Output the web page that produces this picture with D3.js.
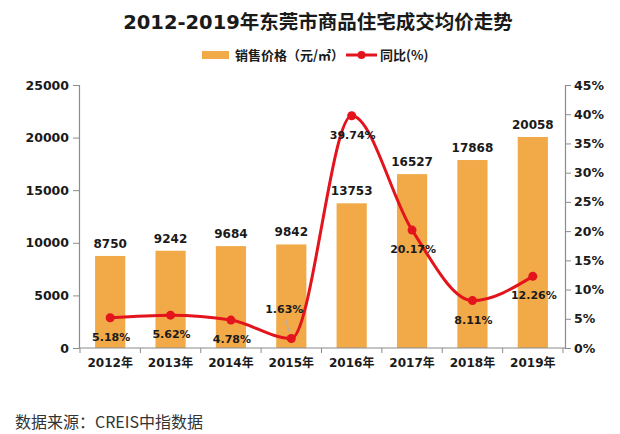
<!DOCTYPE html>
<html>
<head>
<meta charset="utf-8">
<script src="https://cdn.jsdelivr.net/npm/d3@7"></script>
<style>
  html, body { margin: 0; padding: 0; background: #fff; }
  svg { display: block; }
</style>
</head>
<body>
<svg id="chart" width="620" height="434"></svg>
<script>
const years = ["2012年","2013年","2014年","2015年","2016年","2017年","2018年","2019年"];
const prices = [8750, 9242, 9684, 9842, 13753, 16527, 17868, 20058];
const yoy = [5.18, 5.62, 4.78, 1.63, 39.74, 20.17, 8.11, 12.26];
const yoyLabelSide = ["below","below","below","above","below","below","below","below"];
const leftTicks = [0, 5000, 10000, 15000, 20000, 25000];
const rightTicks = [0, 5, 10, 15, 20, 25, 30, 35, 40, 45];

(function () {
const svg = d3.select("#chart");
const barColor = "#F2A948";
const lineColor = "#E3141C";
const axisColor = "#8c8c8c";
const textColor = "#1a1a1a";
const numFont = "'DejaVu Sans', 'Noto Sans CJK SC', sans-serif";

const plotTop = 85, plotBottom = 348, plotLeft = 79, plotRight = 565;

const x = d3.scaleBand().domain(years).range([80, 563]).paddingInner(0.5).paddingOuter(0.25);
const yL = d3.scaleLinear().domain([0, 25000]).range([plotBottom, plotTop]);
const yR = d3.scaleLinear().domain([0, 45]).range([plotBottom, plotTop]);
const cx = d => x(d) + x.bandwidth() / 2;

// Title
svg.append("text")
  .attr("x", 318).attr("y", 29)
  .attr("text-anchor", "middle")
  .attr("font-family", numFont)
  .attr("font-weight", "bold")
  .attr("font-size", 19.5)
  .attr("fill", textColor)
  .text("2012-2019年东莞市商品住宅成交均价走势");

// Legend
const lg = svg.append("g");
lg.append("rect").attr("x", 202).attr("y", 51).attr("width", 27).attr("height", 8).attr("fill", barColor);
lg.append("text").attr("x", 235).attr("y", 60)
  .attr("font-family", "'Noto Sans CJK SC', sans-serif").attr("font-weight", "bold")
  .attr("font-size", 13).attr("fill", textColor).text("销售价格（元/㎡）");
lg.append("line").attr("x1", 346).attr("x2", 377).attr("y1", 55).attr("y2", 55)
  .attr("stroke", lineColor).attr("stroke-width", 3);
lg.append("circle").attr("cx", 361.5).attr("cy", 55).attr("r", 4).attr("fill", lineColor);
lg.append("text").attr("x", 380).attr("y", 60)
  .attr("font-family", "'Noto Sans CJK SC', sans-serif").attr("font-weight", "bold")
  .attr("font-size", 13).attr("fill", textColor).text("同比(%)");

// Bars
svg.append("g").selectAll("rect").data(prices).join("rect")
  .attr("x", (d, i) => x(years[i]))
  .attr("y", d => yL(d))
  .attr("width", x.bandwidth())
  .attr("height", d => yL(0) - yL(d))
  .attr("fill", barColor);

// Bar labels
svg.append("g").selectAll("text").data(prices).join("text")
  .attr("x", (d, i) => cx(years[i]))
  .attr("y", d => yL(d) - 8)
  .attr("text-anchor", "middle")
  .attr("font-family", numFont).attr("font-weight", "bold")
  .attr("font-size", 12).attr("fill", textColor)
  .text(d => d);

// Left axis
const axL = svg.append("g").attr("transform", `translate(${plotLeft},0)`)
  .call(d3.axisLeft(yL).tickValues(leftTicks).tickSize(6).tickPadding(4).tickFormat(d => d));
axL.select(".domain").attr("stroke", axisColor).attr("stroke-width", 1.2);
axL.selectAll(".tick line").attr("stroke", axisColor);
axL.selectAll(".tick text").attr("font-family", numFont).attr("font-weight", "bold")
  .attr("font-size", 12.5).attr("fill", textColor);

// Right axis
const axR = svg.append("g").attr("transform", `translate(${plotRight},0)`)
  .call(d3.axisRight(yR).tickValues(rightTicks).tickSize(6).tickPadding(3).tickFormat(d => d + "%"));
axR.select(".domain").attr("stroke", axisColor).attr("stroke-width", 1.2);
axR.selectAll(".tick line").attr("stroke", axisColor);
axR.selectAll(".tick text").attr("font-family", numFont).attr("font-weight", "bold")
  .attr("font-size", 12.5).attr("fill", textColor);

// Bottom axis
const step = x.step();
const x0 = x.range()[0];
const bx = svg.append("g");
bx.append("line").attr("x1", plotLeft).attr("x2", plotRight).attr("y1", plotBottom).attr("y2", plotBottom)
  .attr("stroke", axisColor).attr("stroke-width", 1.2);
bx.selectAll("line.tk").data(d3.range(years.length + 1)).join("line").attr("class", "tk")
  .attr("x1", i => x0 + i * step).attr("x2", i => x0 + i * step)
  .attr("y1", plotBottom).attr("y2", plotBottom + 5)
  .attr("stroke", axisColor);
bx.selectAll("text").data(years).join("text")
  .attr("x", d => cx(d)).attr("y", 367)
  .attr("text-anchor", "middle")
  .attr("font-family", numFont).attr("font-weight", "bold")
  .attr("font-size", 12).attr("fill", textColor)
  .text(d => d);

// Leader line for 2015 label
svg.append("line")
  .attr("x1", cx(years[3]) - 6).attr("y1", yR(yoy[3]) - 20)
  .attr("x2", cx(years[3]) - 1).attr("y2", yR(yoy[3]) - 3)
  .attr("stroke", "#b0b0b0").attr("stroke-width", 1);

// Line
const line = d3.line()
  .x((d, i) => cx(years[i]))
  .y(d => yR(d))
  .curve(d3.curveMonotoneX);
svg.append("path").datum(yoy)
  .attr("d", line)
  .attr("fill", "none")
  .attr("stroke", lineColor)
  .attr("stroke-width", 3);
svg.append("g").selectAll("circle").data(yoy).join("circle")
  .attr("cx", (d, i) => cx(years[i]))
  .attr("cy", d => yR(d))
  .attr("r", 4.5)
  .attr("fill", lineColor);

// Line labels
svg.append("g").selectAll("text").data(yoy).join("text")
  .attr("x", (d, i) => cx(years[i]) + (yoyLabelSide[i] === "above" ? -7 : 1))
  .attr("y", (d, i) => yR(d) + (yoyLabelSide[i] === "above" ? -25 : 23))
  .attr("text-anchor", "middle")
  .attr("font-family", numFont).attr("font-weight", "bold")
  .attr("font-size", 11).attr("fill", textColor)
  .text(d => d.toFixed(2) + "%");

// Source
svg.append("text")
  .attr("x", 15).attr("y", 428)
  .attr("font-family", "'Noto Sans CJK SC', sans-serif")
  .attr("font-size", 16).attr("fill", "#333")
  .text("数据来源：CREIS中指数据");
})();
</script>
</body>
</html>
